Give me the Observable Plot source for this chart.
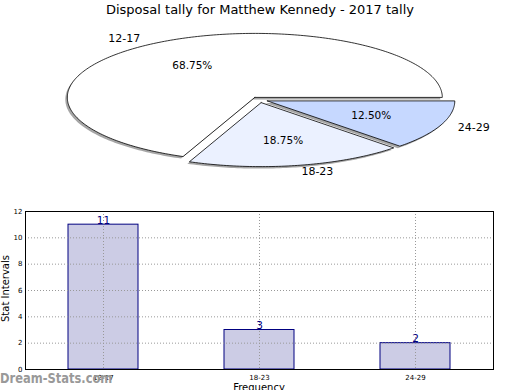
<!DOCTYPE html>
<html><head><meta charset="utf-8">
<script src="https://cdn.jsdelivr.net/npm/d3@7"></script>
<script src="https://cdn.jsdelivr.net/npm/@observablehq/plot@0.6"></script>
<style>
body{margin:0;background:#fff;font-family:"DejaVu Sans",sans-serif}
#wrap{position:relative;width:520px;height:390px;overflow:hidden;background:#fff}
#title{position:absolute;left:0;top:2px;width:520px;text-align:center;font-size:13px;color:#000}
#pie{position:absolute;left:0;top:0}
#bar{position:absolute;left:0;top:200px}
#ylab{position:absolute;left:-45px;top:283px;width:100px;text-align:center;font-size:10px;transform:rotate(-90deg);transform-origin:50% 50%}
#xlab{position:absolute;left:209px;top:382px;width:100px;text-align:center;font-size:10px}
#wm{position:absolute;left:0px;top:370px;font-size:14px;color:#999;font-weight:bold;display:inline-block;white-space:nowrap;transform:scaleX(0.82);transform-origin:0 50%}
</style></head>
<body><div id="wrap">
<div id="pie"></div>
<div id="bar"></div>
<div id="title">Disposal tally for Matthew Kennedy - 2017 tally</div>
<div id="ylab">Stat Intervals</div>
<div id="xlab">Frequency</div>
<div id="wm">Dream-Stats.com</div>
</div>
<script>
const categories = ["12-17", "18-23", "24-29"];
const values = [11, 3, 2];
const sliceColors = ["#ffffff", "#ebf1ff", "#c6d8ff"];
const explode = [0.045, 0.045, 0.045];
const yTicks = [0, 2, 4, 6, 8, 10, 12];

const total = d3.sum(values);
let acc = 0;
const wedges = values.map((v, i) => {
  const a0 = acc / total * 360; acc += v; const a1 = acc / total * 360;
  const m = (a0 + a1) / 2 * Math.PI / 180;
  const ox = explode[i] * Math.cos(m), oy = explode[i] * Math.sin(m);
  return {label: categories[i], value: v, a0, a1, m, ox, oy, color: sliceColors[i]};
});
function wedgePts(w) {
  const pts = [{x: w.ox, y: w.oy}];
  const n = Math.max(2, Math.ceil(w.a1 - w.a0));
  for (let k = 0; k <= n; k++) {
    const a = (w.a0 + (w.a1 - w.a0) * k / n) * Math.PI / 180;
    pts.push({x: w.ox + Math.cos(a), y: w.oy + Math.sin(a)});
  }
  pts.push({x: w.ox, y: w.oy});
  return pts;
}
const labels = wedges.map(w => ({
  x: w.ox + 1.1 * Math.cos(w.m), y: w.oy + 1.1 * Math.sin(w.m), text: w.label,
  anchor: Math.cos(w.m) > 0 ? "start" : "end"
}));
const pcts = wedges.map(w => ({
  x: w.ox + 0.6 * Math.cos(w.m), y: w.oy + 0.6 * Math.sin(w.m),
  text: (w.value / total * 100).toFixed(2) + "%"
}));

const pieMarks = [];
wedges.forEach(w => pieMarks.push(Plot.line(wedgePts(w), {x: "x", y: "y", fill: "#4d4d4d", fillOpacity: 0.5, stroke: "none", dx: -2, dy: 2, curve: "linear"})));
wedges.forEach(w => pieMarks.push(Plot.line(wedgePts(w), {x: "x", y: "y", fill: w.color, stroke: "#000", strokeWidth: 0.8, strokeLinejoin: "miter", curve: "linear"})));
pieMarks.push(Plot.text(labels.filter(d => d.anchor === "start"), {x: "x", y: "y", text: "text", textAnchor: "start", fontSize: 11, fill: "#000"}));
pieMarks.push(Plot.text(labels.filter(d => d.anchor === "end"), {x: "x", y: "y", text: "text", textAnchor: "end", fontSize: 11, fill: "#000"}));
pieMarks.push(Plot.text(pcts, {x: "x", y: "y", text: "text", fontSize: 10.5, fill: "#000"}));

const pie = Plot.plot({
  width: 520, height: 200, margin: 0,
  x: {domain: [-1, 1], range: [71.5, 446.5], axis: null},
  y: {domain: [-1, 1], range: [163.3, 35.3], axis: null},
  style: {fontFamily: "DejaVu Sans", background: "transparent", overflow: "visible"},
  marks: pieMarks
});
document.getElementById("pie").appendChild(pie);

const barData = categories.map((c, i) => ({cat: c, value: values[i]}));
const bar = Plot.plot({
  width: 520, height: 190,
  marginLeft: 25, marginRight: 27, marginTop: 11, marginBottom: 21,
  x: {domain: categories, paddingInner: 0.55, paddingOuter: 0.275, align: 0.5, label: null, tickSize: 0, tickPadding: 6},
  y: {domain: [0, 12], ticks: yTicks, tickSize: 0, tickPadding: 3, label: null},
  style: {fontFamily: "DejaVu Sans", fontSize: "7px", color: "#000", background: "transparent", overflow: "visible"},
  marks: [
    Plot.barY(barData, {x: "cat", y: "value", fill: "#ccccE5", stroke: "#000080", strokeWidth: 1}),
    Plot.gridY(yTicks.slice(1, -1), {stroke: "#999", strokeOpacity: 1, strokeDasharray: "1,2"}),
    Plot.gridX(categories, {stroke: "#999", strokeOpacity: 1, strokeDasharray: "1,2"}),
    Plot.frame({stroke: "#000", strokeWidth: 1}),
    Plot.text(barData, {x: "cat", y: "value", text: d => String(d.value), lineAnchor: "bottom", dy: -1, fill: "#000080", fontSize: 10.5})
  ]
});
document.getElementById("bar").appendChild(bar);
</script>
</body></html>
